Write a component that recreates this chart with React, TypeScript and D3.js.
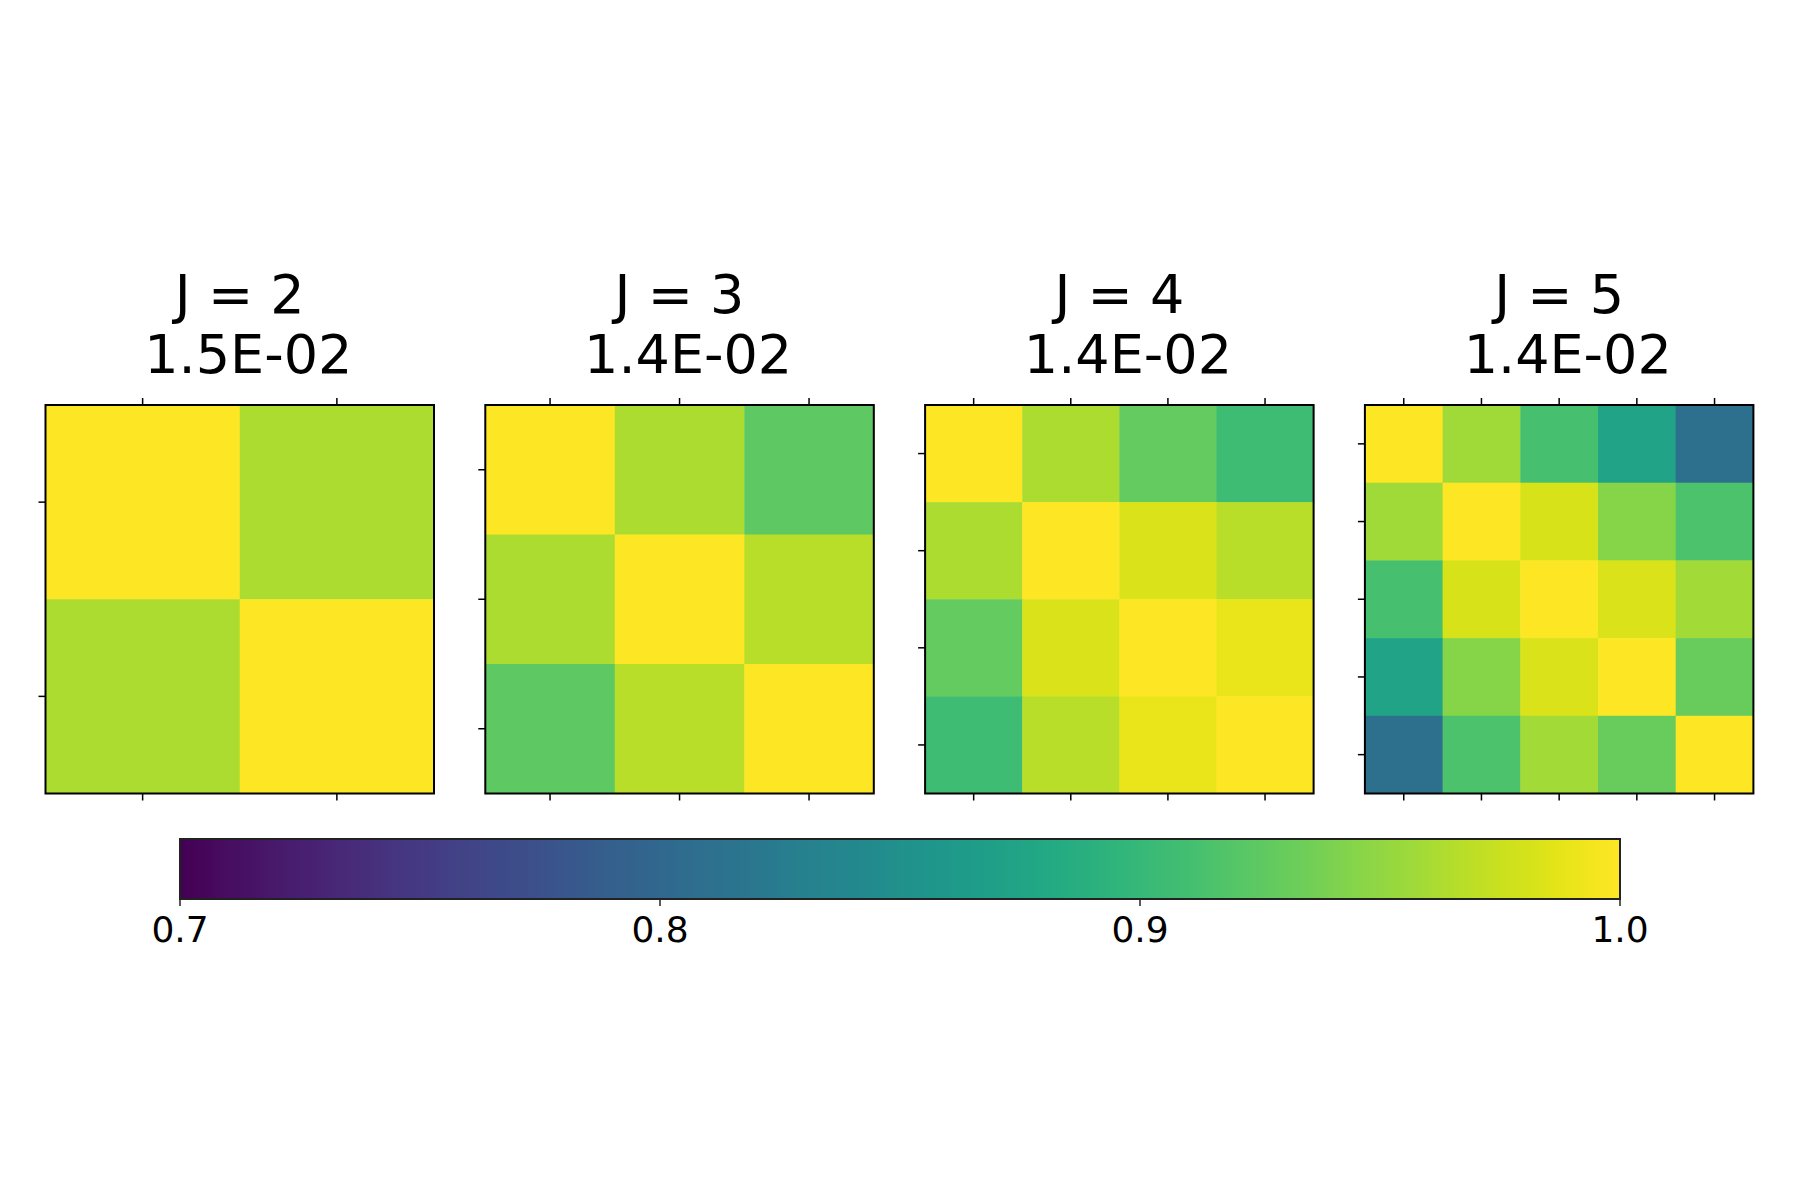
import React from 'react';
import * as d3 from 'd3';

// correlation matrices for each number of components J
const panelJ = [2, 3, 4, 5];
const panelScores = ['1.5E-02', '1.4E-02', '1.4E-02', '1.4E-02'];

const corrJ2 = [
  [1.0, 0.963],
  [0.963, 1.0],
];
const corrJ3 = [
  [1.0, 0.963, 0.925],
  [0.963, 1.0, 0.968],
  [0.925, 0.968, 1.0],
];
const corrJ4 = [
  [1.0, 0.963, 0.928, 0.907],
  [0.963, 1.0, 0.983, 0.968],
  [0.928, 0.983, 1.0, 0.99],
  [0.907, 0.968, 0.99, 1.0],
];
const corrJ5 = [
  [1.0, 0.957, 0.912, 0.874, 0.81],
  [0.957, 1.0, 0.982, 0.945, 0.915],
  [0.912, 0.982, 1.0, 0.983, 0.958],
  [0.874, 0.945, 0.983, 1.0, 0.93],
  [0.81, 0.915, 0.958, 0.93, 1.0],
];
const matrices = [corrJ2, corrJ3, corrJ4, corrJ5];

const colorDomain: [number, number] = [0.7, 1.0];
const colorbarTicks = [0.7, 0.8, 0.9, 1.0];

const WIDTH = 1800;
const HEIGHT = 1200;
const FONT = '"DejaVu Sans", sans-serif';

const panelLeft = 45.5;
const panelStep = 439.8;
const panelSize = 388.5;
const panelTop = 405;
const tickLen = 7;

const cbar = { x0: 180, x1: 1620, y0: 839, y1: 899 };

const color = d3.scaleSequential(d3.interpolateViridis).domain(colorDomain);

type HeatmapProps = {
  data: number[][];
  x: number;
  j: number;
  score: string;
};

const Heatmap = ({ data, x, j, score }: HeatmapProps) => {
  const idx = d3.range(data.length);
  const band = d3.scaleBand<number>().domain(idx).range([0, panelSize]);
  const bw = band.bandwidth();
  const cx = panelSize / 2;

  return (
    <g transform={`translate(${x}, ${panelTop})`}>
      <text
        x={cx}
        y={-92}
        textAnchor="middle"
        fontSize={54}
        fontFamily={FONT}
        style={{ whiteSpace: 'pre' }}
      >
        {`J = ${j}`}
      </text>
      <text
        x={cx}
        y={-32}
        textAnchor="middle"
        fontSize={54}
        fontFamily={FONT}
        style={{ whiteSpace: 'pre' }}
      >
        {` ${score}`}
      </text>
      {data.map((row, r) => row.map((v, c) => (
        <rect
          key={`${r}-${c}`}
          x={band(c)}
          y={band(r)}
          width={bw + 0.5}
          height={bw + 0.5}
          fill={color(v)}
        />
      )))}
      {idx.map((i) => {
        const p = (band(i) as number) + bw / 2;
        return (
          <g key={i} stroke="#000" strokeWidth={1.5}>
            <line x1={p} x2={p} y1={0} y2={-tickLen} />
            <line x1={p} x2={p} y1={panelSize} y2={panelSize + tickLen} />
            <line x1={0} x2={-tickLen} y1={p} y2={p} />
          </g>
        );
      })}
      <rect
        x={0}
        y={0}
        width={panelSize}
        height={panelSize}
        fill="none"
        stroke="#000"
        strokeWidth={2}
      />
    </g>
  );
};

const Colorbar = () => {
  const xScale = d3.scaleLinear().domain(colorDomain).range([cbar.x0, cbar.x1]);
  const stops = d3.range(0, 65).map((i) => i / 64);

  return (
    <g>
      <defs>
        <linearGradient id="viridis-bar" x1="0%" x2="100%" y1="0%" y2="0%">
          {stops.map((s) => (
            <stop
              key={s}
              offset={`${s * 100}%`}
              stopColor={color(colorDomain[0] + s * (colorDomain[1] - colorDomain[0]))}
            />
          ))}
        </linearGradient>
      </defs>
      <rect
        x={cbar.x0}
        y={cbar.y0}
        width={cbar.x1 - cbar.x0}
        height={cbar.y1 - cbar.y0}
        fill="url(#viridis-bar)"
        stroke="#222"
        strokeWidth={2}
      />
      {colorbarTicks.map((t) => (
        <g key={t} transform={`translate(${xScale(t)}, ${cbar.y1})`}>
          <line y1={0} y2={tickLen} stroke="#222" strokeWidth={1.5} />
          <text
            y={43}
            textAnchor="middle"
            fontSize={36}
            fontFamily={FONT}
          >
            {d3.format('.1f')(t)}
          </text>
        </g>
      ))}
    </g>
  );
};

const App = () => (
  <svg
    width={WIDTH}
    height={HEIGHT}
    style={{ position: 'absolute', left: 0, top: 0, background: '#fff' }}
  >
    <rect width={WIDTH} height={HEIGHT} fill="#fff" />
    {matrices.map((m, i) => (
      <Heatmap
        key={panelJ[i]}
        data={m}
        x={panelLeft + i * panelStep}
        j={panelJ[i]}
        score={panelScores[i]}
      />
    ))}
    <Colorbar />
  </svg>
);

export default App;
